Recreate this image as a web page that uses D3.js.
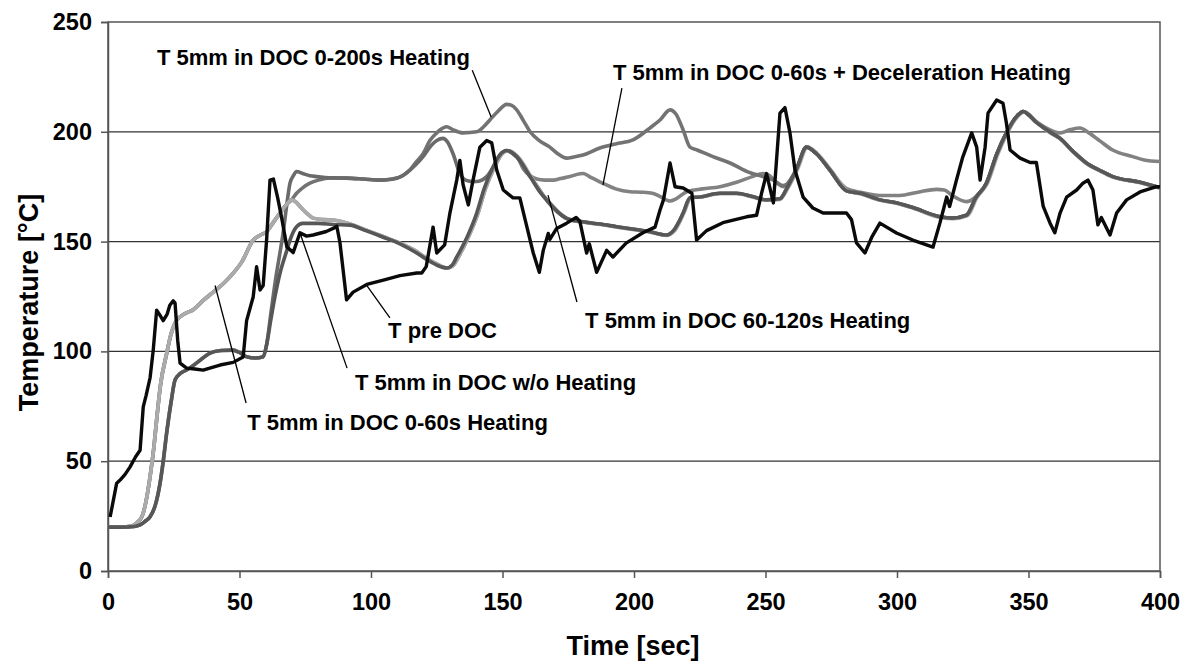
<!DOCTYPE html>
<html>
<head>
<meta charset="utf-8">
<script src="https://cdn.jsdelivr.net/npm/d3@7"></script>
<style>
  body { margin: 0; background: #fff; }
  text { font-family: "Liberation Sans", Arial, sans-serif; font-weight: bold; fill: #000; }
</style>
</head>
<body>
<script>
// time [s], temperature [°C]
var preDoc = [[0.8,24.6],[3.3,40],[4.6,41.4],[6.5,44],[8.4,47.4],[10.5,52],[12.2,55],[13.4,74.7],[14.5,80],[16,88],[17.2,100.6],[18.5,118.8],[19.5,117],[21,114],[22.5,117],[23.5,121],[24.8,123],[25.5,122],[26.5,105],[27.4,94.7],[29.9,92.4],[33,92],[36.2,91.5],[39,92.5],[42.6,93.8],[47.6,95],[51.4,97.5],[52.7,114],[55.2,124.8],[56.5,138.6],[57.8,128],[59,130],[60.3,150.7],[61.6,178],[62.9,178.5],[64.5,170],[66,161],[68,147.6],[70.4,145],[73,154],[75.5,152.5],[78,153],[83,154.6],[85.6,156],[87,157],[88.2,149.5],[90.7,123.5],[93.2,127],[98.4,130.5],[104.7,132.5],[111,134.5],[117.4,135.7],[119.3,135.7],[121,138.6],[123.6,156.6],[125,144.8],[128,148.5],[130,163],[132.6,178],[133.8,187],[135,176],[137,166.7],[138.8,178],[141.4,193],[144,196],[145.9,195],[147.8,182.6],[150.3,173.5],[154,169.9],[156.6,169.9],[158.6,160],[161.7,144.8],[164,136],[165.5,146],[167.4,153.7],[168,151],[170.6,156],[174.4,158.4],[178,161],[179.4,159.3],[182,144.8],[183,149],[185.8,136],[189.6,146],[192,143],[197,149.3],[203.4,154],[208,156.6],[209.9,164.4],[211.2,169],[213.7,185.8],[215.6,175],[218.7,174.4],[222,172],[223.8,150.7],[227.6,155],[233.8,158.6],[242.8,161.3],[246.6,162],[248.5,172],[250.4,181],[253,167.6],[255.5,208.5],[257.4,211],[259.3,199.5],[261.2,182.6],[264.3,170.3],[268,165.3],[271.9,163],[280.8,163],[282.7,160],[284.6,149.4],[287.8,144.8],[290.4,152],[293.5,158.4],[299.8,153.9],[306,150.7],[313.7,147.5],[316.3,158.4],[318.9,170.3],[320,166],[322.6,178],[325,188.5],[328.4,199.5],[330.3,193],[331.6,178],[333.5,193],[334.6,208.5],[337.9,214.5],[340.3,213],[341.6,204],[343,191.7],[346.8,188],[350.6,186],[353,186],[355.6,166],[358.2,158.4],[360,154],[362,163],[364.5,170.3],[368.3,173.5],[370.7,176.6],[372.6,178],[374.5,173.5],[376.4,157.6],[377.7,161],[381,153],[383.5,163],[387.3,169],[392.4,172.6],[398.7,175],[400,175]];

var woHeating = [[0,20],[5,20],[10,20.3],[12.2,21],[14,22.5],[16,24.7],[18,30],[19.8,40],[21,50],[22.3,62.8],[24,77],[25.5,87],[27.5,90],[29.9,91.5],[34,95],[38.8,99.2],[43,100.4],[47.6,100.6],[50,99.5],[52.7,97.6],[56,97],[59,97.6],[60.3,103],[62,115],[63.5,125],[65.4,135.6],[68,146],[69.2,150.7],[71.7,156.8],[74,158.3],[80,158.3],[85.6,157.8],[92,157.5],[98,155],[104.6,152],[111,149],[117.4,144.8],[121,142],[125,139.3],[128.8,138],[131,139.5],[132.6,143],[136.5,152],[140.2,163],[143,174],[146.4,184],[149,189.5],[151.6,191.5],[155.4,188.7],[160.5,179.6],[164,173],[168,167.4],[171,163.5],[174.4,160.6],[180.6,159],[187,158],[193.4,156.8],[200,155.6],[206,154.5],[212.4,153],[215,155],[218.7,163],[221.3,170],[225,170.3],[232.7,172],[239,172],[245,170.5],[250.4,169],[255.5,169.5],[258,174],[261.8,183],[265.6,193],[269.4,190],[274.5,182.6],[281,173],[286,172],[293.5,169],[300,167.6],[306,165.5],[316.3,161.3],[321,160.7],[326.4,162],[330,170],[334,176.6],[338,190],[341.6,199.5],[345.5,207],[348,209.2],[353,204.3],[358,200],[362,197],[367,191],[372,185.8],[377,182.5],[382,179.6],[392.4,177],[400,174.5]];

var heating0to60 = [[0,20],[5,20],[9,20.5],[11,22],[13,25],[14.5,32],[16,43],[17.5,57],[18.5,69],[20,85],[22.3,99],[24,108],[26,114],[29,117],[32.4,119],[36,123],[40,127],[44,131],[47.6,135.6],[51,141],[55.2,150.7],[58,153],[60.3,154.5],[63,159],[65.4,163],[68,167],[69.8,169],[71.5,168],[73,166],[75.5,163],[78,160.7],[82,160],[85.6,159.8],[92,158],[98,155.3],[104.6,152.3],[111,149.3],[117.4,145.5],[121,142.5],[125,139.8],[129,138],[131.5,139.5],[133.5,143.5],[137,152],[140.7,163],[143.5,174],[147,184],[149.5,189.5],[152,191.3],[156,188.5],[161,179.3],[164.5,172.7],[168.5,167],[171.5,163.3],[175,160.3],[181,158.8],[187,157.8],[193.4,156.6],[200,155.4],[206,154.3],[212.4,152.8],[215.5,155],[219,163],[221.7,170],[225,170.3],[232.7,171.8],[239,171.8],[245,170.3],[250.4,168.8],[255.5,169.2],[258.4,174],[262.2,183],[266,193],[269.8,190],[275,182.4],[281.4,173],[286,171.8],[293.5,168.8],[300,167.4],[306,165.3],[316.3,161],[321.4,160.4],[326.8,161.8],[330.4,170],[334.4,176.6],[338.4,190],[342,199.5],[345.9,207],[348.4,209],[353.4,204],[358,199.7],[362,196.8],[367,190.8],[372,185.6],[377,182.3],[382,179.4],[392.4,176.8],[400,174.3]];

var heating60to120 = [[0,20],[5,20],[10,20.3],[12.2,21],[14,22.5],[16,24.7],[18,30],[19.8,40],[21,50],[22.3,62.8],[24,77],[25.5,87],[27.5,90],[29.9,91.5],[34,95],[38.8,99.2],[43,100.4],[47.6,100.6],[50,99.5],[52.7,97.6],[56,97],[59,97.6],[60.3,103],[62,118],[64,135],[65.4,145],[66.6,154],[68,167],[69.2,176.6],[70.5,180],[71.7,181.9],[74,181],[76.8,180],[79.3,179.6],[85,179],[90.7,178.9],[97,178.5],[103.4,178],[108,178.4],[112,180],[114.8,182.6],[117,185],[119.8,188.7],[122.4,193],[125,196],[127.4,197],[129,195.5],[131.2,190],[133.8,181],[136,178],[138.9,177.3],[141,177.5],[144,179.6],[147,185],[149,189.5],[151.6,191.3],[155.4,188.5],[160.5,179.6],[163,175.5],[167.3,168],[171,163.4],[174.4,160.5],[180.6,158.9],[187,158],[193.4,156.8],[200,155.6],[206,154.5],[212.4,153],[215,155],[218.7,163],[221.3,170],[225,170.3],[232.7,172],[239,172],[245,170.5],[250.4,169],[255.5,169.5],[258,174],[261.8,183],[265.6,193],[269.4,190],[274.5,182.6],[281,173],[286,172],[293.5,169],[300,167.6],[306,165.5],[316.3,161.3],[321,160.7],[326.4,162],[330,170],[334,176.6],[338,190],[341.6,199.5],[345.5,207],[348,209.2],[353,204.3],[358,200],[362,197],[367,191],[372,185.8],[377,182.5],[382,179.6],[392.4,177],[400,174.5]];

var heating0to200 = [[0,20],[5,20],[9,20.5],[11,22],[13,25],[14.5,32],[16,43],[17.5,57],[18.5,69],[20,85],[22.3,99],[24,108],[26,114],[29,117],[32.4,119],[36,123],[40,127],[44,131],[47.6,135.6],[51,141],[55.2,150.7],[58,153],[60.3,154.5],[63,159],[65.4,163],[68,167],[69.8,169],[71.7,172],[74,174.5],[76.8,176.6],[80,178],[84.4,179],[90.7,178.9],[97,178.5],[103.4,178],[108,178.5],[112,180],[114.8,182.6],[117,186],[119.8,190],[122.4,196],[125,199.5],[126.2,200.8],[128.8,202.3],[131,201],[135,199.5],[140.2,200],[143,202.5],[145.2,205.4],[148,209],[151.6,212.5],[153.5,212],[155.4,210],[158,205],[160.5,200],[164,196],[168,193],[171,190],[174.4,188],[177,188.5],[180.6,189.4],[187,192.6],[193,194.5],[199.6,196.3],[206,201.7],[210,205.5],[213.7,210],[216,208],[218.7,200.8],[221.3,193],[224,191.7],[230,188.7],[236.5,185.8],[242.8,182],[249,179.6],[253,178],[256.7,175.5],[258,176],[261.8,183],[265.6,193],[269.4,190],[274.5,182.6],[281,173],[286,172],[293.5,169],[300,167.6],[306,165.5],[316.3,161.3],[321,160.7],[326.4,162],[330,170],[334,176.6],[338,190],[341.6,199.5],[345.5,207],[348,209.2],[353,204.3],[358,200],[362,197],[367,191],[372,185.8],[377,182.5],[382,179.6],[392.4,177],[400,174.5]];

var heating0to60Decel = [[0,20],[5,20],[9,20.5],[11,22],[13,25],[14.5,32],[16,43],[17.5,57],[18.5,69],[20,85],[22.3,99],[24,108],[26,114],[29,117],[32.4,119],[36,123],[40,127],[44,131],[47.6,135.6],[51,141],[55.2,150.7],[58,153],[60.3,154.5],[63,159],[65.4,163],[68,167],[69.8,169],[71.5,168],[73,166],[75.5,163],[78,160.7],[82,160],[85.6,159.8],[92,158],[98,155.3],[104.6,152.3],[111,149.3],[117.4,145.5],[121,142.5],[125,139.8],[129,138],[131.5,139.5],[133.5,143.5],[137,152],[140.7,163],[143.5,174],[147,184],[149.5,189.5],[151.6,191.5],[155.4,189],[158,183],[160.5,180],[163,178.5],[166,178],[169.4,178],[172,178.7],[175.7,179.6],[178,180.5],[180.6,181],[184,179],[188,176.6],[193,174],[198.5,172.7],[203,172.5],[207,172],[210,170.5],[213.7,168.5],[216,169.5],[220,172.7],[226,174],[232.7,175],[239,177],[245,179.6],[249,181],[251,180.5],[254.4,176.6],[256.7,175],[258,176],[261.8,183],[265.6,193],[269.4,190],[274.5,182.6],[281,174],[286,172.5],[293.5,171],[301,171],[308,172.5],[315,173.8],[318,173.5],[321,171],[326.4,168.2],[330,170.5],[334,176.6],[338,190],[341.6,199.5],[345.5,207],[348,209.2],[353,204.6],[358,201],[362,199.5],[366,201],[369.6,201.7],[373,199.5],[377,196],[382,191.7],[389.7,188.7],[394,187.2],[400,186.5]];

var xTicks = [0, 50, 100, 150, 200, 250, 300, 350, 400];
var yTicks = [0, 50, 100, 150, 200, 250];
var gridValues = [50, 100, 150, 200];

// label text, label anchor [t, T], pointer from [t, T] to [t, T]
var labelNames = ['T 5mm in DOC 0-200s Heating', 'T 5mm in DOC 0-60s + Deceleration Heating', 'T pre DOC',
  'T 5mm in DOC 60-120s Heating', 'T 5mm in DOC w/o Heating', 'T 5mm in DOC 0-60s Heating'];
var labelAt = [[18.6, 230.4], [192, 223.6], [106.5, 106.1], [181.4, 110.6], [93.9, 82.4], [52.9, 64.2]];
var pointerFrom = [[138.5, 228], [195.4, 219.9], [98.5, 129.8], [167.3, 171.2], [73, 153.9], [40.7, 130]];
var pointerTo = [[145.7, 206.7], [188.2, 175.8], [107.2, 115.3], [178.3, 122.5], [90.9, 92.4], [52.5, 76.5]];

var svg = d3.select('body')
	.append('svg')
	.attr('width', 1196)
	.attr('height', 661);

var x = d3.scaleLinear().domain([0, 400]).range([108, 1160]);
var y = d3.scaleLinear().domain([0, 250]).range([571, 22]);

// gridlines
svg.selectAll('.grid')
	.data(gridValues)
	.enter()
	.append('line')
	.attr('x1', x(0)).attr('x2', x(400))
	.attr('y1', function(d){ return y(d); })
	.attr('y2', function(d){ return y(d); })
	.style('stroke', '#333')
	.style('stroke-width', 1.3);

// frame
svg.append('rect')
	.attr('x', x(0)).attr('y', y(250))
	.attr('width', x(400) - x(0))
	.attr('height', y(0) - y(250))
	.style('fill', 'none')
	.style('stroke', '#555')
	.style('stroke-width', 1.5);

// axes
var xAxis = svg.append('g')
	.attr('transform', 'translate(0,' + y(0) + ')')
	.call(d3.axisBottom(x).tickValues(xTicks).tickSize(7).tickPadding(15));
var yAxis = svg.append('g')
	.attr('transform', 'translate(' + x(0) + ',0)')
	.call(d3.axisLeft(y).tickValues(yTicks).tickSize(7).tickPadding(9));
[xAxis, yAxis].forEach(function(a){
	a.select('.domain').style('stroke', '#555').style('stroke-width', 1.5);
	a.selectAll('.tick line').style('stroke', '#555').style('stroke-width', 1.5);
	a.selectAll('.tick text')
		.style('font-family', '"Liberation Sans", Arial, sans-serif')
		.style('font-weight', 'bold')
		.style('font-size', '23.5px')
		.style('fill', '#000');
});

// lines, drawn bottom to top
var series = [
	{ values: heating0to60Decel, color: '#828282', width: 3.6, curve: d3.curveMonotoneX },
	{ values: heating0to200, color: '#737373', width: 3.6, curve: d3.curveMonotoneX },
	{ values: heating60to120, color: '#6a6a6a', width: 3.6, curve: d3.curveMonotoneX },
	{ values: heating0to60, color: '#ababab', width: 3.6, curve: d3.curveMonotoneX },
	{ values: woHeating, color: '#575757', width: 3.6, curve: d3.curveMonotoneX },
	{ values: preDoc, color: '#0a0a0a', width: 3.4, curve: d3.curveLinear }
];

series.forEach(function(s){
	var line = d3.line()
		.x(function(d){ return x(d[0]); })
		.y(function(d){ return y(d[1]); })
		.curve(s.curve);
	svg.append('path')
		.datum(s.values)
		.attr('d', line)
		.style('fill', 'none')
		.style('stroke', s.color)
		.style('stroke-width', s.width)
		.style('stroke-linejoin', 'round');
});

// pointers and labels
svg.selectAll('.pointer')
	.data(labelNames)
	.enter()
	.append('line')
	.attr('x1', function(d, i){ return x(pointerFrom[i][0]); })
	.attr('y1', function(d, i){ return y(pointerFrom[i][1]); })
	.attr('x2', function(d, i){ return x(pointerTo[i][0]); })
	.attr('y2', function(d, i){ return y(pointerTo[i][1]); })
	.style('stroke', '#000')
	.style('stroke-width', 1.3);

svg.selectAll('.label')
	.data(labelNames)
	.enter()
	.append('text')
	.attr('x', function(d, i){ return x(labelAt[i][0]); })
	.attr('y', function(d, i){ return y(labelAt[i][1]); })
	.style('font-size', '22px')
	.text(function(d){ return d; });

// axis titles
svg.append('text')
	.attr('x', x(200) - 1)
	.attr('y', 655)
	.attr('text-anchor', 'middle')
	.style('font-size', '27px')
	.text('Time [sec]');

svg.append('text')
	.attr('transform', 'translate(38,' + ((y(0) + y(250)) / 2 + 6) + ') rotate(-90)')
	.attr('text-anchor', 'middle')
	.style('font-size', '27px')
	.text('Temperature [°C]');
</script>
</body>
</html>
